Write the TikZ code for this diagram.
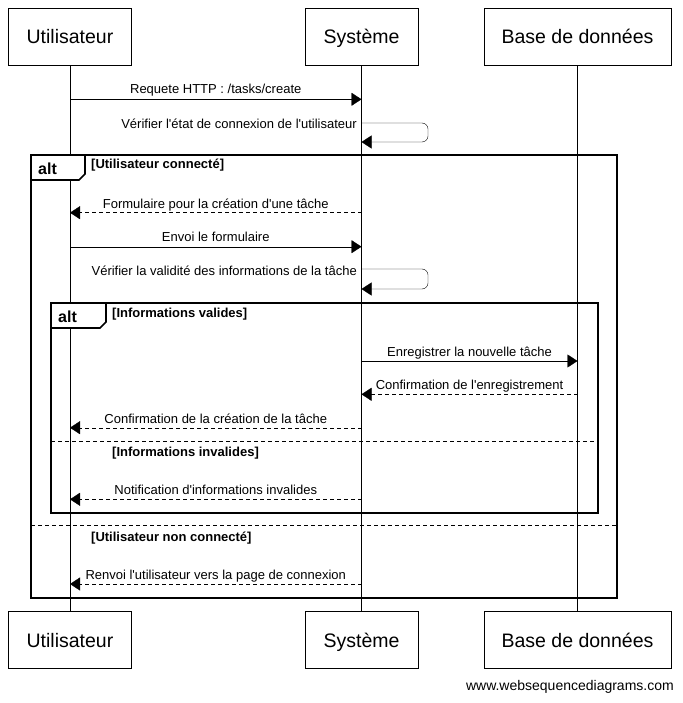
\documentclass[tikz,border=0pt]{standalone}
\usepackage{fontspec}
\setmainfont{Liberation Sans}[Ligatures=TeXOff]
\usetikzlibrary{arrows.meta}

\begin{document}
\begin{tikzpicture}[x=1pt, y=-1pt,
    actor/.style={draw, minimum height=57pt, inner sep=0pt, text height=16pt, text depth=2pt, font=\fontsize{19.5}{22}\selectfont},
    msg/.style={-{Triangle[length=10pt,width=13pt]}},
    reply/.style={msg, dash pattern=on 4pt off 3pt},
    lbl/.style={anchor=base, inner sep=0pt, font=\fontsize{13}{15}\selectfont},
    frame/.style={line width=1.6pt},
    guard/.style={anchor=west, inner sep=0pt, font=\bfseries\fontsize{13}{15}\selectfont},
    optag/.style={anchor=base west, inner sep=0pt, font=\bfseries\fontsize{16}{18}\selectfont}]
  %sequence : creation d'une tache
    \useasboundingbox[fill=white] (0,0) rectangle (682,703);
    \node[actor, minimum width=123pt] (u) at (70,36.5) {Utilisateur};
    \node[actor, minimum width=113pt] (s) at (361.5,36.5) {Système};
    \node[actor, minimum width=187pt] (b) at (577.5,36.5) {Base de données};
    \node[actor, minimum width=123pt] (u2) at (70,640) {Utilisateur};
    \node[actor, minimum width=113pt] (s2) at (361.5,640) {Système};
    \node[actor, minimum width=187pt] (b2) at (577.5,640) {Base de données};
    \draw (u) -- (u2);
    \draw (s) -- (s2);
    \draw (b) -- (b2);
  %alt externe
    \draw[frame] (31,155) rectangle (617,598);
    \draw[frame, fill=white] (31,155) -- (85,155) -- (85,174) -- (79,180) -- (31,180) -- cycle;
    \node[optag] (alt1) at (38,175) {alt};
    \node[guard] (g1) at (91,165) {[Utilisateur connecté]};
    \draw[frame, dash pattern=on 4pt off 3pt] (31,525.5) -- (617,525.5);
    \node[guard] (g2) at (91,538) {[Utilisateur non connecté]};
  %alt interne
    \draw[frame] (51,303) rectangle (598,513);
    \draw[frame, fill=white] (51,303) -- (106,303) -- (106,322) -- (100,328) -- (51,328) -- cycle;
    \node[optag] (alt2) at (58,322) {alt};
    \node[guard] (g3) at (112,314) {[Informations valides]};
    \draw[frame, dash pattern=on 4pt off 3pt] (51,441.5) -- (598,441.5);
    \node[guard] (g4) at (112,453) {[Informations invalides]};
  %messages
    \draw[msg] (u |- 0,99.3) -- (s |- 0,99.3) node[lbl, midway, yshift=6pt] (m1) {Requete HTTP : /tasks/create};
    \draw[msg, rounded corners=6pt] (s |- 0,123) -- (428,123) -- (428,142) -- (s |- 0,142);
    \node[lbl, anchor=base east] (m2) at (357,129) {Vérifier l'état de connexion de l'utilisateur};
    \draw[reply] (s |- 0,212.7) -- (u |- 0,212.7) node[lbl, midway, yshift=4.5pt] (m3) {Formulaire pour la création d'une tâche};
    \draw[msg] (u |- 0,246.7) -- (s |- 0,246.7) node[lbl, midway, yshift=5pt] (m4) {Envoi le formulaire};
    \draw[msg, rounded corners=6pt] (s |- 0,269) -- (428,269) -- (428,289) -- (s |- 0,289);
    \node[lbl, anchor=base east] (m5) at (357,275) {Vérifier la validité des informations de la tâche};
    \draw[msg] (s |- 0,361) -- (b |- 0,361) node[lbl, midway, yshift=4.5pt] (m6) {Enregistrer la nouvelle tâche};
    \draw[reply] (b |- 0,394.3) -- (s |- 0,394.3) node[lbl, midway, yshift=4.5pt] (m7) {Confirmation de l'enregistrement};
    \draw[reply] (s |- 0,427.7) -- (u |- 0,427.7) node[lbl, midway, yshift=4.5pt] (m8) {Confirmation de la création de la tâche};
    \draw[reply] (s |- 0,499.3) -- (u |- 0,499.3) node[lbl, midway, yshift=4.5pt] (m9) {Notification d'informations invalides};
    \draw[reply] (s |- 0,584) -- (u |- 0,584) node[lbl, midway, yshift=5pt] (m10) {Renvoi l'utilisateur vers la page de connexion};
    \node[anchor=east, inner sep=0pt, font=\fontsize{14}{16}\selectfont] (site) at (674,687) {www.websequencediagrams.com};
  \end{tikzpicture}
\end{document}
